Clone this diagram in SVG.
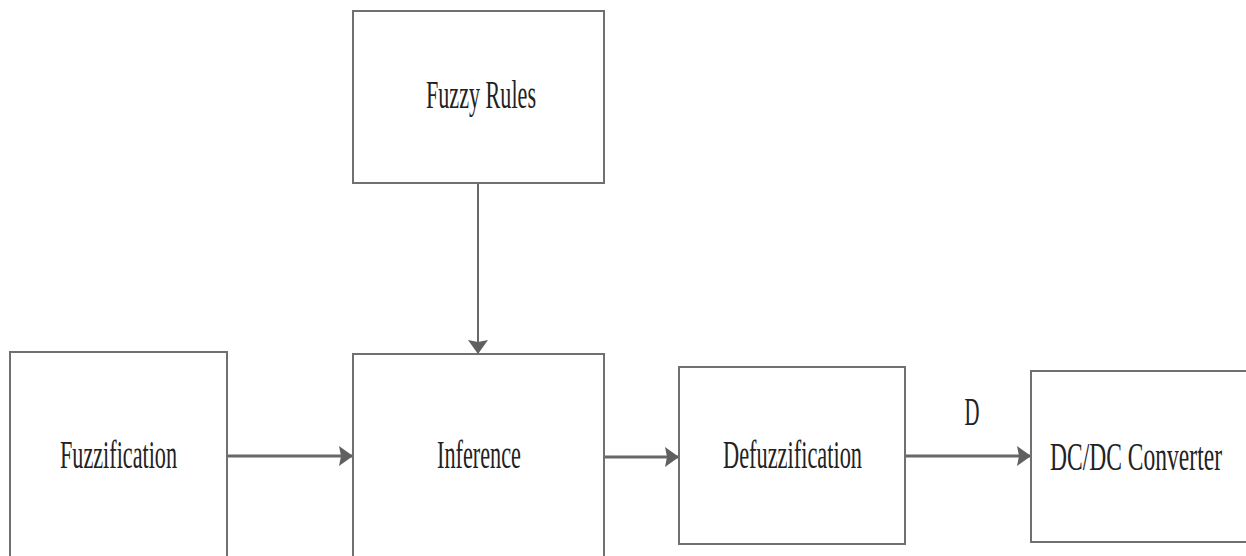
<svg xmlns="http://www.w3.org/2000/svg" width="1246" height="556" viewBox="0 0 1246 556">
<style>
.box{fill:#fff;stroke:#707070;stroke-width:2}
.lbl{font-family:"Liberation Serif","DejaVu Serif","Times New Roman",serif;font-size:39px;fill:#222;text-anchor:middle}
.conn{stroke:#686868;stroke-width:3;fill:none}
.thin{stroke:#686868;stroke-width:2;fill:none}
</style>
<defs>
<marker id="ah" markerUnits="userSpaceOnUse" markerWidth="16" markerHeight="22" refX="14" refY="11" orient="auto">
<path d="M0,1 L14,11 L0,21 L2,11 Z" fill="#606060"/>
</marker>
</defs>
<rect width="1246" height="556" fill="#fff"/>
<g id="connectors">
<line class="thin" x1="478" y1="183" x2="478" y2="354" marker-end="url(#ah)"/>
<line class="conn" x1="227" y1="456" x2="353" y2="456" marker-end="url(#ah)"/>
<line class="conn" x1="604" y1="457" x2="679" y2="457" marker-end="url(#ah)"/>
<line class="conn" x1="905" y1="456" x2="1031" y2="456" marker-end="url(#ah)"/>
<text class="lbl" x="972" y="425" textLength="15" lengthAdjust="spacingAndGlyphs">D</text>
</g>
<g id="fuzzy-rules">
<rect class="box" x="353" y="11" width="251" height="172"/>
<text class="lbl" x="481" y="108" textLength="110" lengthAdjust="spacingAndGlyphs">Fuzzy Rules</text>
</g>
<g id="fuzzification">
<rect class="box" x="10" y="352" width="217" height="220"/>
<text class="lbl" x="118.5" y="468" textLength="117" lengthAdjust="spacingAndGlyphs">Fuzzification</text>
</g>
<g id="inference">
<rect class="box" x="353" y="354" width="251" height="220"/>
<text class="lbl" x="479" y="468" textLength="84" lengthAdjust="spacingAndGlyphs">Inference</text>
</g>
<g id="defuzzification">
<rect class="box" x="679" y="367" width="226" height="177"/>
<text class="lbl" x="792.5" y="468" textLength="139" lengthAdjust="spacingAndGlyphs">Defuzzification</text>
</g>
<g id="dcdc-converter">
<rect class="box" x="1031" y="371" width="240" height="171"/>
<text class="lbl" x="1136" y="470" textLength="172" lengthAdjust="spacingAndGlyphs">DC/DC Converter</text>
</g>
</svg>
